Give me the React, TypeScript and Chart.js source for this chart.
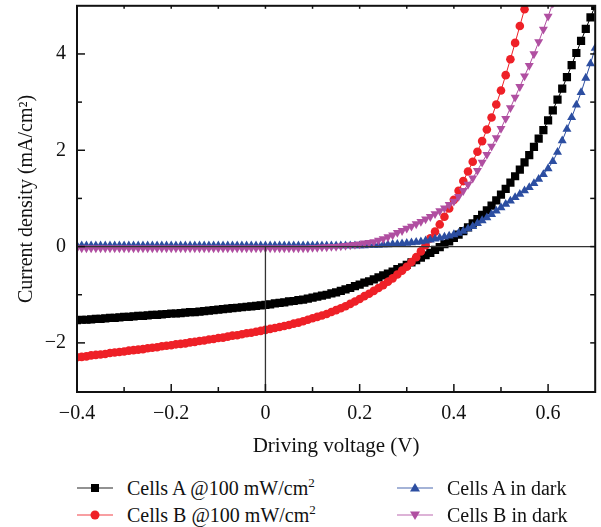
import React, { useEffect, useRef } from 'react';
import { Chart, registerables } from 'chart.js';

Chart.register(...registerables);

const FONT = '"Liberation Serif", "Times New Roman", serif';

// Driving voltage (V) sample points
const V = [
  -0.40, -0.39, -0.38, -0.37, -0.36, -0.35, -0.34, -0.33, -0.32, -0.31,
  -0.30, -0.29, -0.28, -0.27, -0.26, -0.25, -0.24, -0.23, -0.22, -0.21,
  -0.20, -0.19, -0.18, -0.17, -0.16, -0.15, -0.14, -0.13, -0.12, -0.11,
  -0.10, -0.09, -0.08, -0.07, -0.06, -0.05, -0.04, -0.03, -0.02, -0.01,
  0.00, 0.01, 0.02, 0.03, 0.04, 0.05, 0.06, 0.07, 0.08, 0.09,
  0.10, 0.11, 0.12, 0.13, 0.14, 0.15, 0.16, 0.17, 0.18, 0.19,
  0.20, 0.21, 0.22, 0.23, 0.24, 0.25, 0.26, 0.27, 0.28, 0.29,
  0.30, 0.31, 0.32, 0.33, 0.34, 0.35, 0.36, 0.37, 0.38, 0.39,
  0.40, 0.41, 0.42, 0.43, 0.44, 0.45, 0.46, 0.47, 0.48, 0.49,
  0.50, 0.51, 0.52, 0.53, 0.54, 0.55, 0.56, 0.57, 0.58, 0.59,
  0.60, 0.61, 0.62, 0.63, 0.64, 0.65, 0.66, 0.67, 0.68, 0.69,
  0.70,
];

// Cells A @100 mW/cm2 (mA/cm2)
const CELLS_A_LIGHT = [
  -1.53, -1.52, -1.52, -1.51, -1.50, -1.50, -1.49, -1.48, -1.48, -1.47,
  -1.46, -1.46, -1.45, -1.44, -1.44, -1.43, -1.42, -1.42, -1.41, -1.40,
  -1.39, -1.39, -1.38, -1.37, -1.36, -1.36, -1.35, -1.34, -1.33, -1.32,
  -1.31, -1.30, -1.29, -1.28, -1.27, -1.26, -1.25, -1.24, -1.23, -1.22,
  -1.21, -1.20, -1.18, -1.17, -1.16, -1.14, -1.13, -1.11, -1.10, -1.08,
  -1.06, -1.04, -1.02, -1.00, -0.97, -0.95, -0.92, -0.89, -0.86, -0.82,
  -0.79, -0.75, -0.72, -0.68, -0.64, -0.60, -0.56, -0.52, -0.47, -0.43,
  -0.38, -0.33, -0.28, -0.23, -0.18, -0.13, -0.07, -0.01, 0.05, 0.11,
  0.18, 0.25, 0.32, 0.40, 0.48, 0.57, 0.66, 0.75, 0.85, 0.96,
  1.08, 1.20, 1.33, 1.46, 1.60, 1.75, 1.90, 2.07, 2.24, 2.42,
  2.62, 2.83, 3.05, 3.28, 3.52, 3.77, 4.02, 4.27, 4.52, 4.76,
  5.00,
];

// Cells B @100 mW/cm2
const CELLS_B_LIGHT = [
  -2.30, -2.29, -2.28, -2.26, -2.25, -2.24, -2.23, -2.21, -2.20, -2.19,
  -2.18, -2.16, -2.15, -2.14, -2.13, -2.11, -2.10, -2.09, -2.07, -2.06,
  -2.05, -2.03, -2.02, -2.01, -1.99, -1.98, -1.96, -1.95, -1.93, -1.92,
  -1.90, -1.89, -1.87, -1.85, -1.84, -1.82, -1.80, -1.79, -1.77, -1.75,
  -1.73, -1.71, -1.69, -1.67, -1.65, -1.63, -1.60, -1.58, -1.55, -1.52,
  -1.49, -1.46, -1.43, -1.40, -1.36, -1.32, -1.28, -1.24, -1.19, -1.14,
  -1.09, -1.03, -0.98, -0.92, -0.86, -0.80, -0.73, -0.66, -0.58, -0.50,
  -0.42, -0.32, -0.22, -0.10, 0.03, 0.17, 0.31, 0.46, 0.62, 0.79,
  0.97, 1.16, 1.36, 1.56, 1.76, 1.97, 2.19, 2.43, 2.68, 2.95,
  3.24, 3.56, 3.89, 4.23, 4.58, 4.93, 5.30,
];

// Cells A in dark
const CELLS_A_DARK = [
  0.02, 0.02, 0.02, 0.02, 0.02, 0.02, 0.02, 0.02, 0.02, 0.02,
  0.02, 0.02, 0.02, 0.02, 0.02, 0.02, 0.02, 0.02, 0.02, 0.02,
  0.02, 0.02, 0.02, 0.02, 0.02, 0.02, 0.02, 0.02, 0.02, 0.02,
  0.02, 0.02, 0.02, 0.02, 0.02, 0.02, 0.02, 0.02, 0.02, 0.02,
  0.02, 0.02, 0.02, 0.02, 0.02, 0.02, 0.02, 0.02, 0.02, 0.02,
  0.02, 0.02, 0.02, 0.02, 0.02, 0.02, 0.02, 0.02, 0.02, 0.02,
  0.02, 0.02, 0.03, 0.03, 0.03, 0.04, 0.04, 0.05, 0.05, 0.06,
  0.07, 0.08, 0.09, 0.10, 0.12, 0.14, 0.16, 0.18, 0.20, 0.22,
  0.25, 0.28, 0.32, 0.37, 0.42, 0.48, 0.54, 0.60, 0.67, 0.74,
  0.81, 0.88, 0.95, 1.02, 1.09, 1.16, 1.23, 1.31, 1.40, 1.50,
  1.62, 1.77, 1.96, 2.20, 2.44, 2.68, 2.94, 3.20, 3.50, 3.80,
  4.12,
];

// Cells B in dark
const CELLS_B_DARK = [
  -0.03, -0.03, -0.03, -0.03, -0.03, -0.03, -0.03, -0.03, -0.03, -0.03,
  -0.03, -0.03, -0.03, -0.03, -0.03, -0.03, -0.03, -0.03, -0.03, -0.03,
  -0.03, -0.03, -0.03, -0.03, -0.03, -0.03, -0.03, -0.03, -0.03, -0.03,
  -0.03, -0.03, -0.03, -0.03, -0.03, -0.03, -0.03, -0.03, -0.03, -0.03,
  -0.03, -0.03, -0.03, -0.03, -0.03, -0.03, -0.03, -0.03, -0.03, -0.03,
  -0.02, -0.02, -0.01, -0.01, 0.00, 0.00, 0.01, 0.02, 0.03, 0.04,
  0.05, 0.07, 0.08, 0.10, 0.13, 0.16, 0.20, 0.24, 0.29, 0.33,
  0.38, 0.42, 0.47, 0.52, 0.57, 0.62, 0.68, 0.74, 0.80, 0.87,
  0.94, 1.04, 1.16, 1.29, 1.42, 1.58, 1.75, 1.91, 2.08, 2.26,
  2.45, 2.66, 2.88, 3.10, 3.32, 3.54, 3.76, 4.00, 4.25, 4.51,
  4.78, 5.05, 5.32,
];

const SERIES_NAMES = ['Cells A @100 mW/cm', 'Cells B @100 mW/cm', 'Cells A in dark', 'Cells B in dark'];

const X_MAJOR = [-0.4, -0.2, 0, 0.2, 0.4, 0.6];
const X_MINOR = [-0.3, -0.1, 0.1, 0.3, 0.5];
const Y_MAJOR = [-2, 0, 2, 4];
const Y_MINOR = [-1, 1, 3];

const BLACK = '#000000';
const RED = '#ee2027';
const BLUE = '#2c4ea1';
const PURPLE = '#b04fa1';

const fmt = (v: number) => {
  const r = Math.round(v * 10) / 10;
  if (r === 0) return '0';
  return r < 0 ? '\u2212' + String(Math.abs(r)) : String(r);
};

const decor = {
  id: 'decor',
  afterDatasetsDraw(chart: any) {
    const { ctx, chartArea: a, scales } = chart;
    const x = scales.x;
    const y = scales.y;
    ctx.save();
    const line = (x1: number, y1: number, x2: number, y2: number) => {
      ctx.beginPath();
      ctx.moveTo(x1, y1);
      ctx.lineTo(x2, y2);
      ctx.stroke();
    };
    const y0 = y.getPixelForValue(0);
    const x0 = x.getPixelForValue(0);
    ctx.strokeStyle = '#333333';
    ctx.lineWidth = 1.3;
    line(a.left, y0, a.right, y0);
    line(x0, y0, x0, a.bottom);

    ctx.strokeStyle = '#111111';
    ctx.lineWidth = 2;
    ctx.strokeRect(a.left, a.top, a.right - a.left, a.bottom - a.top);

    ctx.lineWidth = 1.5;
    X_MAJOR.forEach((v) => {
      const p = x.getPixelForValue(v);
      line(p, a.bottom, p, a.bottom - 8);
      line(p, a.top, p, a.top + 3);
    });
    X_MINOR.forEach((v) => {
      const p = x.getPixelForValue(v);
      line(p, a.bottom, p, a.bottom - 5);
      line(p, a.top, p, a.top + 3);
    });
    Y_MAJOR.forEach((v) => {
      const p = y.getPixelForValue(v);
      line(a.left, p, a.left + 8, p);
      line(a.right, p, a.right - 5, p);
    });
    Y_MINOR.forEach((v) => {
      const p = y.getPixelForValue(v);
      line(a.left, p, a.left + 5, p);
      line(a.right, p, a.right - 5, p);
    });
    ctx.restore();
  },
};

function Marker({ color, kind }: { color: string; kind: string }) {
  let shape: any = null;
  if (kind === 'rect') shape = <rect x={14} y={5} width={8} height={8} fill={color} />;
  if (kind === 'circle') shape = <circle cx={18} cy={9} r={4.5} fill={color} />;
  if (kind === 'up') shape = <polygon points="18,4 23,12.5 13,12.5" fill={color} />;
  if (kind === 'down') shape = <polygon points="13,5.5 23,5.5 18,14" fill={color} />;
  return (
    <svg width={36} height={18} style={{ display: 'block' }}>
      <line x1={0} y1={9} x2={36} y2={9} stroke={color} strokeWidth={1.2} strokeOpacity={0.85} />
      {shape}
    </svg>
  );
}

function LegendItem({ left, top, color, kind, text, sup }: any) {
  return (
    <div
      style={{
        position: 'absolute',
        left,
        top,
        height: 26,
        display: 'flex',
        alignItems: 'center',
        fontFamily: FONT,
        fontSize: 20,
        color: '#111',
        whiteSpace: 'nowrap',
      }}
    >
      <Marker color={color} kind={kind} />
      <span style={{ marginLeft: 14 }}>
        {text}
        {sup ? <span style={{ fontSize: 13, position: 'relative', top: -8 }}>{sup}</span> : null}
      </span>
    </div>
  );
}

export default function App() {
  const ref = useRef<HTMLCanvasElement>(null);

  useEffect(() => {
    const mk = (ys: number[]) => ys.map((yv, i) => ({ x: V[i], y: yv }));
    const ds = (label: string, data: number[], color: string, style: any, radius: number, rotation: number, order: number) => ({
      label,
      data: mk(data),
      borderColor: color,
      backgroundColor: color,
      borderWidth: 1,
      pointStyle: style,
      pointRadius: radius,
      pointRotation: rotation,
      pointBorderWidth: 0,
      pointBackgroundColor: color,
      pointBorderColor: color,
      tension: 0,
      order,
    });
    const chart = new Chart(ref.current as HTMLCanvasElement, {
      type: 'line',
      data: {
        datasets: [
          ds(SERIES_NAMES[0], CELLS_A_LIGHT, BLACK, 'rect', 5.8, 0, 3),
          ds(SERIES_NAMES[1], CELLS_B_LIGHT, RED, 'circle', 4.3, 0, 2),
          ds(SERIES_NAMES[2], CELLS_A_DARK, BLUE, 'triangle', 5.2, 0, 1),
          ds(SERIES_NAMES[3], CELLS_B_DARK, PURPLE, 'triangle', 5.2, 180, 0),
        ] as any,
      },
      options: {
        animation: false,
        responsive: false,
        maintainAspectRatio: false,
        events: [],
        layout: { padding: { top: 4, right: 5, left: 0, bottom: 0 } },
        plugins: { legend: { display: false }, tooltip: { enabled: false } },
        scales: {
          x: {
            type: 'linear',
            min: -0.4,
            max: 0.7,
            grid: { display: false, drawTicks: false },
            border: { display: false },
            afterBuildTicks: (s: any) => {
              s.ticks = X_MAJOR.map((v) => ({ value: v }));
            },
            afterFit: (s: any) => {
              s.paddingLeft = 0;
              s.paddingRight = 0;
            },
            ticks: {
              padding: 12,
              color: '#111',
              maxRotation: 0,
              autoSkip: false,
              font: { family: FONT, size: 20, lineHeight: 1.0 },
              callback: (v: any) => fmt(Number(v)),
            },
            title: {
              display: true,
              text: 'Driving voltage (V)',
              color: '#111',
              font: { family: FONT, size: 21, lineHeight: 1.0 },
              padding: { top: 0, bottom: 3 },
            },
          },
          y: {
            type: 'linear',
            min: -3.02,
            max: 5,
            grid: { display: false, drawTicks: false },
            border: { display: false },
            afterBuildTicks: (s: any) => {
              s.ticks = Y_MAJOR.map((v) => ({ value: v }));
            },
            afterFit: (s: any) => {
              s.width = 77;
              s.paddingTop = 0;
              s.paddingBottom = 0;
            },
            ticks: {
              padding: 11,
              color: '#111',
              autoSkip: false,
              font: { family: FONT, size: 20 },
              callback: (v: any) => fmt(Number(v)),
            },
            title: {
              display: true,
              text: 'Current density (mA/cm\u00B2)',
              color: '#111',
              font: { family: FONT, size: 20 },
              padding: { top: 15, bottom: 0 },
            },
          },
        },
      } as any,
      plugins: [decor],
    });
    return () => chart.destroy();
  }, []);

  return (
    <div style={{ position: 'fixed', left: 0, top: 0, width: 601, height: 527, background: '#fff' }}>
      <canvas ref={ref} width={601} height={460} style={{ display: 'block', width: 601, height: 460 }} />
      <LegendItem left={77} top={475} color={BLACK} kind="rect" text={SERIES_NAMES[0]} sup="2" />
      <LegendItem left={77} top={502} color={RED} kind="circle" text={SERIES_NAMES[1]} sup="2" />
      <LegendItem left={397} top={475} color={BLUE} kind="up" text={SERIES_NAMES[2]} />
      <LegendItem left={397} top={502} color={PURPLE} kind="down" text={SERIES_NAMES[3]} />
    </div>
  );
}
